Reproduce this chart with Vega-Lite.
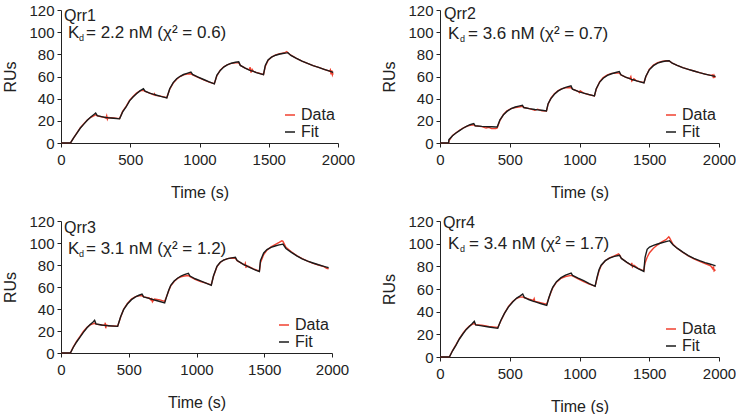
{
  "$schema": "https://vega.github.io/schema/vega-lite/v6.json",
  "padding": {"left": 2, "top": 3, "right": 0, "bottom": 0},
  "background": "white",
  "config": {
    "view": {"stroke": null},
    "font": "Liberation Sans",
    "axis": {"grid": false, "domainColor": "#222", "tickColor": "#222", "labelColor": "#222", "titleColor": "#222", "labelFont": "Liberation Sans", "titleFont": "Liberation Sans", "labelFontSize": 15, "titleFontSize": 16, "titleFontWeight": "normal", "tickSize": 4, "domainWidth": 1, "tickWidth": 1, "labelOverlap": false},
    "axisX": {"labelPadding": 5, "titlePadding": 17, "labelFlush": false, "titleFontWeight": "normal"},
    "axisY": {"labelPadding": 3, "titlePadding": 10, "titleFontWeight": "normal"},
    "legend": {"orient": "bottom-right", "title": null, "symbolType": "stroke", "symbolSize": 100, "symbolStrokeWidth": 1.5, "labelFontSize": 16, "labelFont": "Liberation Sans", "labelColor": "#222", "rowPadding": 1, "labelOffset": 3, "offset": 3, "padding": 0},
    "text": {"font": "Liberation Sans", "fontSize": 16, "color": "#222"}
  },
  "datasets": {
    "p1": [
      {"t":0,"Data":0,"Fit":0},{"t":68,"Data":0,"Fit":0},{"t":90,"Data":4.3,"Fit":4.5},{"t":115,"Data":9.2,"Fit":9},{"t":140,"Data":13.8,"Fit":13.5},{"t":165,"Data":17.5,"Fit":17},{"t":190,"Data":20.8,"Fit":20.5},{"t":215,"Data":23.2,"Fit":23.5},{"t":240,"Data":24.8,"Fit":26},{"t":250,"Data":25.5,"Fit":27},{"t":262,"Data":24.5,"Fit":24.6},{"t":300,"Data":23.5,"Fit":23.6},{"t":325,"Data":22.5,"Fit":23},{"t":330,"Data":24.5,"Fit":22.9},{"t":335,"Data":21.5,"Fit":22.9},{"t":340,"Data":23,"Fit":22.8},{"t":380,"Data":22.5,"Fit":22.3},{"t":423,"Data":22,"Fit":21.8},{"t":445,"Data":28.5,"Fit":28},{"t":470,"Data":33,"Fit":32.5},{"t":495,"Data":38.5,"Fit":38},{"t":520,"Data":42,"Fit":41.5},{"t":545,"Data":45,"Fit":44.5},{"t":570,"Data":47,"Fit":47},{"t":595,"Data":47.5,"Fit":49},{"t":607,"Data":46.5,"Fit":46.8},{"t":640,"Data":45,"Fit":45},{"t":670,"Data":43.5,"Fit":43.9},{"t":675,"Data":44.5,"Fit":43.8},{"t":680,"Data":43,"Fit":43.5},{"t":720,"Data":42.3,"Fit":42},{"t":764,"Data":41,"Fit":40.6},{"t":785,"Data":48.5,"Fit":49},{"t":810,"Data":54,"Fit":54.5},{"t":835,"Data":57.5,"Fit":58},{"t":860,"Data":60,"Fit":60.2},{"t":885,"Data":61.5,"Fit":61.8},{"t":910,"Data":62.3,"Fit":62.8},{"t":938,"Data":62.5,"Fit":64},{"t":950,"Data":61.5,"Fit":61.8},{"t":990,"Data":59.2,"Fit":59.5},{"t":1030,"Data":57,"Fit":57.3},{"t":1070,"Data":55,"Fit":55.2},{"t":1107,"Data":53.5,"Fit":53.3},{"t":1125,"Data":60.5,"Fit":61},{"t":1150,"Data":65.8,"Fit":65.5},{"t":1175,"Data":68.8,"Fit":68.5},{"t":1200,"Data":70.5,"Fit":70.5},{"t":1230,"Data":71.8,"Fit":72},{"t":1260,"Data":72.3,"Fit":72.8},{"t":1283,"Data":72.5,"Fit":73.2},{"t":1295,"Data":70,"Fit":70},{"t":1330,"Data":67.5,"Fit":67.5},{"t":1360,"Data":66,"Fit":65.8},{"t":1365,"Data":68.5,"Fit":65.6},{"t":1372,"Data":63.5,"Fit":65.3},{"t":1380,"Data":66.5,"Fit":65},{"t":1390,"Data":64.5,"Fit":64.6},{"t":1410,"Data":63.7,"Fit":63.5},{"t":1462,"Data":61.8,"Fit":61.6},{"t":1475,"Data":69,"Fit":70},{"t":1495,"Data":74.5,"Fit":75},{"t":1520,"Data":77.5,"Fit":77.5},{"t":1550,"Data":79.5,"Fit":79.2},{"t":1580,"Data":80.5,"Fit":80.3},{"t":1610,"Data":81.2,"Fit":81},{"t":1630,"Data":82.5,"Fit":81.3},{"t":1638,"Data":81.5,"Fit":81.5},{"t":1660,"Data":79.2,"Fit":79},{"t":1700,"Data":76.3,"Fit":76.3},{"t":1740,"Data":73.8,"Fit":73.8},{"t":1780,"Data":71.8,"Fit":71.8},{"t":1820,"Data":69.8,"Fit":69.8},{"t":1860,"Data":68.2,"Fit":68.3},{"t":1900,"Data":66.5,"Fit":66.5},{"t":1940,"Data":64.8,"Fit":64.8},{"t":1945,"Data":66,"Fit":64.6},{"t":1950,"Data":62,"Fit":64.4},{"t":1955,"Data":65.5,"Fit":64.2},{"t":1960,"Data":61.5,"Fit":64},{"t":1965,"Data":63,"Fit":63.5}
    ],
    "p2": [
      {"t":0,"Data":0,"Fit":0},{"t":62,"Data":0,"Fit":0},{"t":64,"Data":2,"Fit":3},{"t":90,"Data":6.8,"Fit":6.5},{"t":115,"Data":9.3,"Fit":9},{"t":140,"Data":11.5,"Fit":11.2},{"t":165,"Data":13.5,"Fit":13.3},{"t":190,"Data":15,"Fit":15},{"t":215,"Data":16,"Fit":16.5},{"t":242,"Data":16.5,"Fit":17.6},{"t":252,"Data":15.5,"Fit":15.5},{"t":300,"Data":14.8,"Fit":15},{"t":330,"Data":13.5,"Fit":14.8},{"t":350,"Data":14.2,"Fit":14.7},{"t":370,"Data":13,"Fit":14.6},{"t":400,"Data":13,"Fit":14.5},{"t":410,"Data":13.5,"Fit":14.5},{"t":430,"Data":20.5,"Fit":21},{"t":455,"Data":25.8,"Fit":25.5},{"t":480,"Data":29,"Fit":28.5},{"t":510,"Data":31,"Fit":31},{"t":540,"Data":32,"Fit":32.5},{"t":565,"Data":32.5,"Fit":33.3},{"t":591,"Data":33,"Fit":34},{"t":601,"Data":32,"Fit":32},{"t":640,"Data":31,"Fit":31},{"t":680,"Data":29.5,"Fit":30.2},{"t":700,"Data":30.5,"Fit":29.9},{"t":730,"Data":29,"Fit":29.5},{"t":763,"Data":28.8,"Fit":29},{"t":775,"Data":35,"Fit":35.5},{"t":795,"Data":40.5,"Fit":40},{"t":820,"Data":44.5,"Fit":44},{"t":845,"Data":47,"Fit":46.8},{"t":870,"Data":48.8,"Fit":48.6},{"t":900,"Data":49.8,"Fit":50.2},{"t":939,"Data":50,"Fit":51.5},{"t":950,"Data":48.5,"Fit":48.5},{"t":990,"Data":46.6,"Fit":46.5},{"t":1000,"Data":45.5,"Fit":46.1},{"t":1005,"Data":47,"Fit":45.9},{"t":1030,"Data":45,"Fit":45},{"t":1070,"Data":43.5,"Fit":43.6},{"t":1107,"Data":42.5,"Fit":42.4},{"t":1120,"Data":48.5,"Fit":49},{"t":1145,"Data":55.3,"Fit":55},{"t":1170,"Data":59,"Fit":58.5},{"t":1200,"Data":61.5,"Fit":61},{"t":1230,"Data":62.8,"Fit":62.5},{"t":1260,"Data":63,"Fit":63.6},{"t":1285,"Data":63.2,"Fit":64.5},{"t":1297,"Data":61.5,"Fit":61.5},{"t":1330,"Data":59.5,"Fit":59.5},{"t":1360,"Data":58,"Fit":58},{"t":1368,"Data":60,"Fit":57.6},{"t":1375,"Data":56,"Fit":57.3},{"t":1390,"Data":58,"Fit":56.8},{"t":1410,"Data":56,"Fit":56},{"t":1462,"Data":54.5,"Fit":54.2},{"t":1475,"Data":59.5,"Fit":60},{"t":1500,"Data":66.5,"Fit":66},{"t":1530,"Data":70.3,"Fit":69.8},{"t":1560,"Data":72.5,"Fit":72},{"t":1590,"Data":73.5,"Fit":73.3},{"t":1620,"Data":74.2,"Fit":74},{"t":1642,"Data":74,"Fit":74.2},{"t":1665,"Data":72,"Fit":72},{"t":1700,"Data":70,"Fit":70},{"t":1740,"Data":68,"Fit":68},{"t":1780,"Data":66.5,"Fit":66.5},{"t":1820,"Data":65,"Fit":65},{"t":1860,"Data":63.5,"Fit":63.5},{"t":1900,"Data":62.2,"Fit":62.2},{"t":1940,"Data":61,"Fit":61},{"t":1955,"Data":61.5,"Fit":60.6},{"t":1960,"Data":58.5,"Fit":60.4},{"t":1965,"Data":61,"Fit":60.3},{"t":1970,"Data":59.5,"Fit":60.1},{"t":1975,"Data":60,"Fit":60}
    ],
    "p3": [
      {"t":0,"Data":0,"Fit":0},{"t":69,"Data":0,"Fit":0},{"t":90,"Data":5.3,"Fit":5},{"t":115,"Data":10.5,"Fit":10},{"t":143,"Data":15.5,"Fit":14.8},{"t":165,"Data":19.5,"Fit":18.8},{"t":192,"Data":23.3,"Fit":23},{"t":215,"Data":25.5,"Fit":25.8},{"t":235,"Data":26.5,"Fit":28},{"t":248,"Data":27,"Fit":29.7},{"t":258,"Data":26.3,"Fit":26.5},{"t":300,"Data":25.5,"Fit":25.5},{"t":322,"Data":25,"Fit":25.1},{"t":327,"Data":27.5,"Fit":25},{"t":330,"Data":22.5,"Fit":25},{"t":335,"Data":25.5,"Fit":24.9},{"t":350,"Data":24.8,"Fit":24.8},{"t":418,"Data":24.3,"Fit":24.2},{"t":440,"Data":32.5,"Fit":33},{"t":462,"Data":39.8,"Fit":39.4},{"t":490,"Data":45,"Fit":44.5},{"t":520,"Data":49,"Fit":48.5},{"t":550,"Data":51.3,"Fit":51},{"t":575,"Data":52,"Fit":52.5},{"t":598,"Data":52,"Fit":53.6},{"t":610,"Data":51,"Fit":51},{"t":650,"Data":50,"Fit":49.6},{"t":665,"Data":48,"Fit":49.1},{"t":670,"Data":50,"Fit":48.9},{"t":675,"Data":46.5,"Fit":48.8},{"t":690,"Data":49,"Fit":48.2},{"t":730,"Data":48.3,"Fit":46.8},{"t":765,"Data":47,"Fit":45.5},{"t":780,"Data":51.5,"Fit":51.5},{"t":795,"Data":56.5,"Fit":57},{"t":810,"Data":61,"Fit":61.5},{"t":835,"Data":65,"Fit":65.5},{"t":860,"Data":67.8,"Fit":68},{"t":885,"Data":69.3,"Fit":70},{"t":910,"Data":70,"Fit":71.3},{"t":940,"Data":70.5,"Fit":72.4},{"t":952,"Data":69.5,"Fit":70},{"t":990,"Data":67,"Fit":67.5},{"t":1030,"Data":65,"Fit":65.5},{"t":1070,"Data":63.5,"Fit":63.5},{"t":1109,"Data":62,"Fit":61.5},{"t":1125,"Data":69.5,"Fit":70},{"t":1151,"Data":78.5,"Fit":78.8},{"t":1175,"Data":82.3,"Fit":82.5},{"t":1200,"Data":84.5,"Fit":84.5},{"t":1230,"Data":85.8,"Fit":85.8},{"t":1260,"Data":86.3,"Fit":86.5},{"t":1287,"Data":86,"Fit":87},{"t":1300,"Data":84,"Fit":84},{"t":1340,"Data":81,"Fit":81},{"t":1355,"Data":80,"Fit":80},{"t":1360,"Data":81.5,"Fit":79.8},{"t":1365,"Data":78,"Fit":79.6},{"t":1380,"Data":79,"Fit":78.5},{"t":1420,"Data":76.5,"Fit":76.2},{"t":1464,"Data":74.3,"Fit":74},{"t":1472,"Data":82,"Fit":84},{"t":1496,"Data":89.5,"Fit":91},{"t":1520,"Data":93.5,"Fit":94},{"t":1550,"Data":96.5,"Fit":96},{"t":1580,"Data":98.5,"Fit":97.3},{"t":1610,"Data":100.5,"Fit":98.3},{"t":1630,"Data":102,"Fit":98.8},{"t":1638,"Data":101.5,"Fit":99},{"t":1660,"Data":96,"Fit":95},{"t":1700,"Data":92,"Fit":91.5},{"t":1740,"Data":88.5,"Fit":88.3},{"t":1780,"Data":85.8,"Fit":85.6},{"t":1820,"Data":83.5,"Fit":83.5},{"t":1860,"Data":81.5,"Fit":81.8},{"t":1900,"Data":80,"Fit":80.2},{"t":1940,"Data":78.5,"Fit":78.8},{"t":1960,"Data":77,"Fit":78.1},{"t":1975,"Data":76.5,"Fit":77.5}
    ],
    "p4": [
      {"t":0,"Data":0,"Fit":0},{"t":67,"Data":0,"Fit":0},{"t":90,"Data":5.7,"Fit":5.5},{"t":115,"Data":11,"Fit":10.5},{"t":139,"Data":16.3,"Fit":15.9},{"t":165,"Data":21,"Fit":20.5},{"t":187,"Data":24.5,"Fit":24.1},{"t":210,"Data":27.2,"Fit":27},{"t":230,"Data":28.8,"Fit":29.3},{"t":246,"Data":29.5,"Fit":31.5},{"t":256,"Data":28.5,"Fit":28.3},{"t":300,"Data":28,"Fit":27.5},{"t":350,"Data":27,"Fit":26.5},{"t":414,"Data":26,"Fit":25.3},{"t":435,"Data":31.5,"Fit":32},{"t":462,"Data":38.5,"Fit":38.5},{"t":490,"Data":44.5,"Fit":44},{"t":521,"Data":49,"Fit":48.5},{"t":550,"Data":51.8,"Fit":52},{"t":575,"Data":52.8,"Fit":54},{"t":593,"Data":53,"Fit":55.6},{"t":605,"Data":52.3,"Fit":52.5},{"t":640,"Data":51,"Fit":50.5},{"t":670,"Data":50,"Fit":49.1},{"t":675,"Data":51.5,"Fit":49},{"t":680,"Data":49,"Fit":48.8},{"t":700,"Data":48.5,"Fit":48},{"t":720,"Data":48,"Fit":47.2},{"t":765,"Data":46.5,"Fit":45.6},{"t":780,"Data":52,"Fit":52},{"t":795,"Data":57,"Fit":57.5},{"t":808,"Data":61,"Fit":61.5},{"t":835,"Data":66,"Fit":66.5},{"t":868,"Data":69.5,"Fit":70},{"t":900,"Data":71,"Fit":72.3},{"t":940,"Data":72,"Fit":74.1},{"t":950,"Data":71.5,"Fit":72},{"t":990,"Data":69,"Fit":69.5},{"t":1030,"Data":66.5,"Fit":67.3},{"t":1070,"Data":64.3,"Fit":64.8},{"t":1112,"Data":62.5,"Fit":62.4},{"t":1125,"Data":69,"Fit":70},{"t":1140,"Data":76,"Fit":77},{"t":1155,"Data":80.5,"Fit":81},{"t":1185,"Data":85,"Fit":85},{"t":1215,"Data":87.5,"Fit":87.3},{"t":1250,"Data":89.3,"Fit":88.8},{"t":1280,"Data":91,"Fit":89.6},{"t":1287,"Data":90,"Fit":89.8},{"t":1300,"Data":87,"Fit":87},{"t":1340,"Data":83.5,"Fit":83.5},{"t":1370,"Data":81,"Fit":81.2},{"t":1375,"Data":83,"Fit":80.9},{"t":1380,"Data":79.5,"Fit":80.5},{"t":1390,"Data":81,"Fit":79.9},{"t":1420,"Data":78.2,"Fit":78},{"t":1461,"Data":76,"Fit":75.6},{"t":1470,"Data":83,"Fit":88},{"t":1485,"Data":88,"Fit":95},{"t":1502,"Data":92,"Fit":97},{"t":1530,"Data":96,"Fit":98.5},{"t":1560,"Data":99,"Fit":99.7},{"t":1590,"Data":101.5,"Fit":100.8},{"t":1620,"Data":103.5,"Fit":101.8},{"t":1640,"Data":106,"Fit":102.4},{"t":1646,"Data":105,"Fit":102.6},{"t":1670,"Data":99.5,"Fit":99},{"t":1700,"Data":96,"Fit":96},{"t":1741,"Data":92.3,"Fit":92.5},{"t":1780,"Data":89.3,"Fit":89.5},{"t":1820,"Data":86.5,"Fit":87},{"t":1861,"Data":84.3,"Fit":85},{"t":1900,"Data":82.5,"Fit":83.3},{"t":1940,"Data":80.5,"Fit":81.8},{"t":1955,"Data":78,"Fit":81.3},{"t":1960,"Data":80,"Fit":81.1},{"t":1965,"Data":76,"Fit":80.9},{"t":1975,"Data":77,"Fit":80.5}
    ],
    "labels": [
      {"panel": "Qrr1", "kd": "= 2.2 nM (χ² = 0.6)"},
      {"panel": "Qrr2", "kd": "= 3.6 nM (χ² = 0.7)"},
      {"panel": "Qrr3", "kd": "= 3.1 nM (χ² = 1.2)"},
      {"panel": "Qrr4", "kd": "= 3.4 nM (χ² = 1.7)"}
    ]
  },
  "columns": 2,
  "spacing": {"row": 14, "column": 26},
  "resolve": {"scale": {"color": "independent"}, "legend": {"color": "independent"}},
  "concat": [
    {
      "width": 277, "height": 133,
      "layer": [
        {"data": {"name": "p1"}, "transform": [{"fold": ["Data", "Fit"], "as": ["series", "RU"]}],
         "mark": {"type": "line", "strokeWidth": 1.4},
         "encoding": {
           "x": {"field": "t", "type": "quantitative", "scale": {"domain": [0, 2000], "nice": false}, "axis": {"title": "Time (s)", "values": [0, 500, 1000, 1500, 2000], "format": "d", "labelOverlap": false, "titleFontWeight": "normal"}},
           "y": {"field": "RU", "type": "quantitative", "scale": {"domain": [0, 120], "nice": false}, "axis": {"title": "RUs", "values": [0, 20, 40, 60, 80, 100, 120], "labelOverlap": false, "titleFontWeight": "normal"}},
           "color": {"field": "series", "type": "nominal", "scale": {"domain": ["Data", "Fit"], "range": ["#f0402f", "#1b1b1b"]}}}},
        {"data": {"name": "labels"}, "transform": [{"filter": "datum.panel === 'Qrr1'"}],
         "layer": [
           {"mark": {"type": "text", "align": "left", "baseline": "middle", "dx": 3, "dy": -17.7}, "encoding": {"text": {"field": "panel"}}},
           {"mark": {"type": "text", "align": "left", "baseline": "middle", "dx": 7, "fontSize": 17}, "encoding": {"text": {"value": "K"}}},
           {"mark": {"type": "text", "align": "left", "baseline": "middle", "dx": 18, "dy": 5, "fontSize": 9}, "encoding": {"text": {"value": "d"}}},
           {"mark": {"type": "text", "align": "left", "baseline": "middle", "dx": 25, "fontSize": 17}, "encoding": {"text": {"field": "kd"}}}
         ],
         "encoding": {
           "x": {"datum": 0, "type": "quantitative", "scale": {"domain": [0, 2000], "nice": false}, "axis": {"title": "Time (s)", "values": [0, 500, 1000, 1500, 2000], "format": "d", "labelOverlap": false, "titleFontWeight": "normal"}},
           "y": {"datum": 99, "type": "quantitative", "scale": {"domain": [0, 120], "nice": false}, "axis": {"title": "RUs", "values": [0, 20, 40, 60, 80, 100, 120], "labelOverlap": false, "titleFontWeight": "normal"}}
         }}
      ]
    },
    {
      "width": 279, "height": 133,
      "layer": [
        {"data": {"name": "p2"}, "transform": [{"fold": ["Data", "Fit"], "as": ["series", "RU"]}],
         "mark": {"type": "line", "strokeWidth": 1.4},
         "encoding": {
           "x": {"field": "t", "type": "quantitative", "scale": {"domain": [0, 2000], "nice": false}, "axis": {"title": "Time (s)", "values": [0, 500, 1000, 1500, 2000], "format": "d", "labelOverlap": false, "titleFontWeight": "normal"}},
           "y": {"field": "RU", "type": "quantitative", "scale": {"domain": [0, 120], "nice": false}, "axis": {"title": "RUs", "values": [0, 20, 40, 60, 80, 100, 120], "labelOverlap": false, "titleFontWeight": "normal"}},
           "color": {"field": "series", "type": "nominal", "scale": {"domain": ["Data", "Fit"], "range": ["#f0402f", "#1b1b1b"]}}}},
        {"data": {"name": "labels"}, "transform": [{"filter": "datum.panel === 'Qrr2'"}],
         "layer": [
           {"mark": {"type": "text", "align": "left", "baseline": "middle", "dx": 4, "dy": -19.9}, "encoding": {"text": {"field": "panel"}}},
           {"mark": {"type": "text", "align": "left", "baseline": "middle", "dx": 8, "fontSize": 17}, "encoding": {"text": {"value": "K"}}},
           {"mark": {"type": "text", "align": "left", "baseline": "middle", "dx": 20, "dy": 5, "fontSize": 9}, "encoding": {"text": {"value": "d"}}},
           {"mark": {"type": "text", "align": "left", "baseline": "middle", "dx": 28, "fontSize": 17}, "encoding": {"text": {"field": "kd"}}}
         ],
         "encoding": {
           "x": {"datum": 0, "type": "quantitative", "scale": {"domain": [0, 2000], "nice": false}, "axis": {"title": "Time (s)", "values": [0, 500, 1000, 1500, 2000], "format": "d", "labelOverlap": false, "titleFontWeight": "normal"}},
           "y": {"datum": 98, "type": "quantitative", "scale": {"domain": [0, 120], "nice": false}, "axis": {"title": "RUs", "values": [0, 20, 40, 60, 80, 100, 120], "labelOverlap": false, "titleFontWeight": "normal"}}
         }}
      ]
    },
    {
      "width": 271, "height": 132,
      "layer": [
        {"data": {"name": "p3"}, "transform": [{"fold": ["Data", "Fit"], "as": ["series", "RU"]}],
         "mark": {"type": "line", "strokeWidth": 1.4},
         "encoding": {
           "x": {"field": "t", "type": "quantitative", "scale": {"domain": [0, 2000], "nice": false}, "axis": {"title": "Time (s)", "values": [0, 500, 1000, 1500, 2000], "format": "d", "labelOverlap": false, "titleFontWeight": "normal"}},
           "y": {"field": "RU", "type": "quantitative", "scale": {"domain": [0, 120], "nice": false}, "axis": {"title": "RUs", "values": [0, 20, 40, 60, 80, 100, 120], "labelOverlap": false, "titleFontWeight": "normal"}},
           "color": {"field": "series", "type": "nominal", "scale": {"domain": ["Data", "Fit"], "range": ["#f0402f", "#1b1b1b"]}}}},
        {"data": {"name": "labels"}, "transform": [{"filter": "datum.panel === 'Qrr3'"}],
         "layer": [
           {"mark": {"type": "text", "align": "left", "baseline": "middle", "dx": 3, "dy": -20.9}, "encoding": {"text": {"field": "panel"}}},
           {"mark": {"type": "text", "align": "left", "baseline": "middle", "dx": 7, "fontSize": 17}, "encoding": {"text": {"value": "K"}}},
           {"mark": {"type": "text", "align": "left", "baseline": "middle", "dx": 18, "dy": 5, "fontSize": 9}, "encoding": {"text": {"value": "d"}}},
           {"mark": {"type": "text", "align": "left", "baseline": "middle", "dx": 25, "fontSize": 17}, "encoding": {"text": {"field": "kd"}}}
         ],
         "encoding": {
           "x": {"datum": 0, "type": "quantitative", "scale": {"domain": [0, 2000], "nice": false}, "axis": {"title": "Time (s)", "values": [0, 500, 1000, 1500, 2000], "format": "d", "labelOverlap": false, "titleFontWeight": "normal"}},
           "y": {"datum": 95, "type": "quantitative", "scale": {"domain": [0, 120], "nice": false}, "axis": {"title": "RUs", "values": [0, 20, 40, 60, 80, 100, 120], "labelOverlap": false, "titleFontWeight": "normal"}}
         }}
      ]
    },
    {
      "width": 279, "height": 136,
      "layer": [
        {"data": {"name": "p4"}, "transform": [{"fold": ["Data", "Fit"], "as": ["series", "RU"]}],
         "mark": {"type": "line", "strokeWidth": 1.4},
         "encoding": {
           "x": {"field": "t", "type": "quantitative", "scale": {"domain": [0, 2000], "nice": false}, "axis": {"title": "Time (s)", "values": [0, 500, 1000, 1500, 2000], "format": "d", "labelOverlap": false, "titleFontWeight": "normal"}},
           "y": {"field": "RU", "type": "quantitative", "scale": {"domain": [0, 120], "nice": false}, "axis": {"title": "RUs", "values": [0, 20, 40, 60, 80, 100, 120], "labelOverlap": false, "titleFontWeight": "normal"}},
           "color": {"field": "series", "type": "nominal", "scale": {"domain": ["Data", "Fit"], "range": ["#f0402f", "#1b1b1b"]}}}},
        {"data": {"name": "labels"}, "transform": [{"filter": "datum.panel === 'Qrr4'"}],
         "layer": [
           {"mark": {"type": "text", "align": "left", "baseline": "middle", "dx": 3, "dy": -20.4}, "encoding": {"text": {"field": "panel"}}},
           {"mark": {"type": "text", "align": "left", "baseline": "middle", "dx": 8, "fontSize": 17}, "encoding": {"text": {"value": "K"}}},
           {"mark": {"type": "text", "align": "left", "baseline": "middle", "dx": 20, "dy": 5, "fontSize": 9}, "encoding": {"text": {"value": "d"}}},
           {"mark": {"type": "text", "align": "left", "baseline": "middle", "dx": 29, "fontSize": 17}, "encoding": {"text": {"field": "kd"}}}
         ],
         "encoding": {
           "x": {"datum": 0, "type": "quantitative", "scale": {"domain": [0, 2000], "nice": false}, "axis": {"title": "Time (s)", "values": [0, 500, 1000, 1500, 2000], "format": "d", "labelOverlap": false, "titleFontWeight": "normal"}},
           "y": {"datum": 100, "type": "quantitative", "scale": {"domain": [0, 120], "nice": false}, "axis": {"title": "RUs", "values": [0, 20, 40, 60, 80, 100, 120], "labelOverlap": false, "titleFontWeight": "normal"}}
         }}
      ]
    }
  ]
}
